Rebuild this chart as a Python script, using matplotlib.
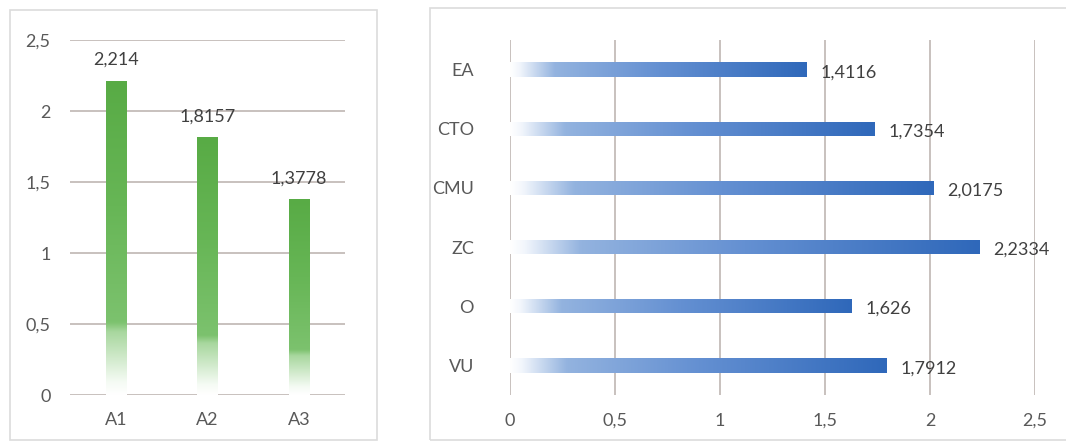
import numpy as np
import matplotlib
matplotlib.use("Agg")
import matplotlib.pyplot as plt
from matplotlib.colors import LinearSegmentedColormap
from matplotlib.patches import Rectangle

plt.rcParams['font.family'] = ['Lato', 'DejaVu Sans']

# left chart data
cats_left = ['A1', 'A2', 'A3']
vals_left = [2.214, 1.8157, 1.3778]
ticks_left = [0, 0.5, 1, 1.5, 2, 2.5]

# right chart data (top to bottom)
cats_right = ['EA', 'CTO', 'CMU', 'ZC', 'O', 'VU']
vals_right = [1.4116, 1.7354, 2.0175, 2.2334, 1.626, 1.7912]
ticks_right = [0, 0.5, 1, 1.5, 2, 2.5]

TXT = '#595959'
GRID = '#c4bcb9'
FS = 13

green = LinearSegmentedColormap.from_list('g', [(0, '#ffffff'), (0.04, '#f5fbf4'),
                                               (0.2, '#a8d79e'), (0.23, '#7cc26e'),
                                               (0.6, '#67b656'), (1, '#58ab45')])
blue = LinearSegmentedColormap.from_list('b', [(0, '#ffffff'), (0.03, '#f2f6fc'),
                                              (0.15, '#93b3df'), (0.5, '#6490d2'),
                                              (1, '#2f68ba')])


def comma(v):
    return ('%g' % v).replace('.', ',')


def gradient_fill(ax, patch, cmap, vertical):
    x0, y0 = patch.get_x(), patch.get_y()
    w, h = patch.get_width(), patch.get_height()
    g = np.linspace(0, 1, 256)
    img = g.reshape(-1, 1) if vertical else g.reshape(1, -1)
    im = ax.imshow(img, extent=[x0, x0 + w, y0, y0 + h], origin='lower',
                   cmap=cmap, aspect='auto', interpolation='bicubic', zorder=2)
    im.set_clip_path(patch)
    patch.set_facecolor('none')


fig = plt.figure(figsize=(10.66, 4.46), dpi=100)

# panel frames
fig.add_artist(Rectangle((10 / 1066, 6 / 446), 367 / 1066, 430 / 446,
                         transform=fig.transFigure, fill=False, ec='#dcdcdc', lw=1.2))
fig.add_artist(Rectangle((430 / 1066, 6 / 446), 640 / 1066, 432 / 446,
                         transform=fig.transFigure, fill=False, ec='#dcdcdc', lw=1.2))

# ---- left: vertical bars ----
ax1 = fig.add_axes([70 / 1066, 51 / 446, 275 / 1066, 355 / 446])
xs = np.arange(len(cats_left))
bars = ax1.bar(xs, vals_left, width=0.22, zorder=2, lw=0)
for b in bars:
    gradient_fill(ax1, b, green, vertical=True)
for x, v in zip(xs, vals_left):
    ax1.annotate(comma(v), (x, v), xytext=(0, 9), textcoords='offset points',
                 ha='center', va='bottom', color='#404040', fontsize=FS)
ax1.set_xlim(-0.5, len(cats_left) - 0.5)
ax1.set_ylim(0, 2.5)
ax1.set_yticks(ticks_left)
ax1.set_yticklabels([comma(t) for t in ticks_left])
ax1.set_xticks(xs)
ax1.set_xticklabels(cats_left)
ax1.yaxis.grid(True, color=GRID, lw=1.3)
ax1.set_axisbelow(True)
for s in ax1.spines.values():
    s.set_visible(False)
ax1.tick_params(length=0, colors=TXT, labelsize=FS)
ax1.tick_params(axis='y', pad=14)
ax1.tick_params(axis='x', pad=12)

# ---- right: horizontal bars ----
ax2 = fig.add_axes([510 / 1066, 51 / 446, 525 / 1066, 355 / 446])
ys = np.arange(len(cats_right))
hb = ax2.barh(ys, vals_right, height=0.24, zorder=2, lw=0)
for b in hb:
    gradient_fill(ax2, b, blue, vertical=False)
for y, v in zip(ys, vals_right):
    ax2.annotate(comma(v), (v, y), xytext=(10, -2), textcoords='offset points',
                 ha='left', va='center', color='#404040', fontsize=FS)
ax2.set_xlim(0, 2.5)
ax2.set_ylim(len(cats_right) - 0.5, -0.5)
ax2.set_xticks(ticks_right)
ax2.set_xticklabels([comma(t) for t in ticks_right])
ax2.set_yticks(ys)
ax2.set_yticklabels(cats_right)
ax2.xaxis.grid(True, color=GRID, lw=1.3)
ax2.set_axisbelow(True)
for s in ax2.spines.values():
    s.set_visible(False)
ax2.tick_params(length=0, colors=TXT, labelsize=FS)
ax2.tick_params(axis='y', pad=26)
ax2.tick_params(axis='x', pad=13)

fig.savefig('out.png', dpi=100)
